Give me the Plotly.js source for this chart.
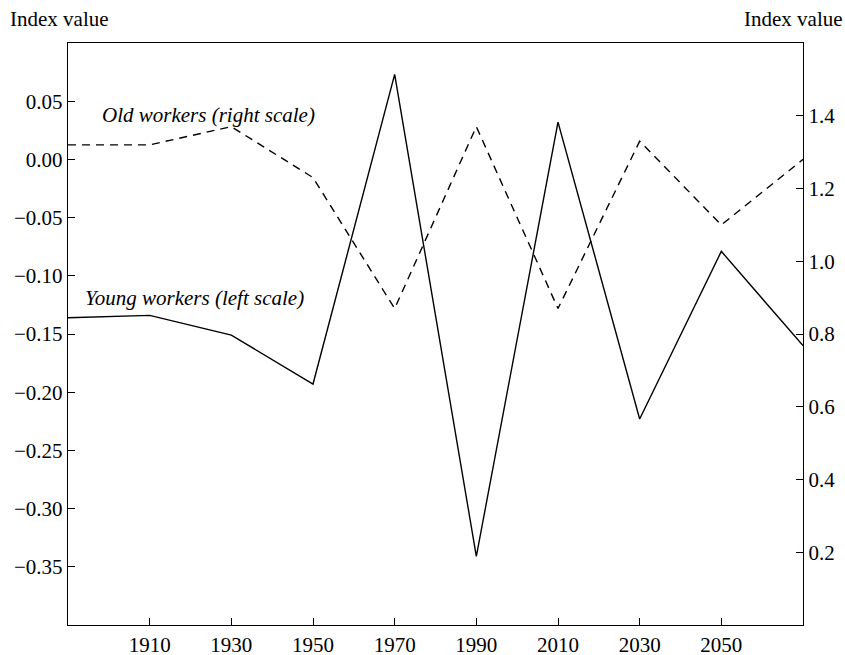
<!DOCTYPE html>
<html>
<head>
<meta charset="utf-8">
<script src="https://cdn.plot.ly/plotly-3.0.1.min.js"></script>
<style>html,body{margin:0;padding:0;background:#fff;}#chart{width:845px;height:655px;}</style>
</head>
<body>
<div id="chart"></div>
<script>
var years = [1890, 1910, 1930, 1950, 1970, 1990, 2010, 2030, 2050, 2070];
var youngWorkers = [-0.136, -0.134, -0.151, -0.193, 0.073, -0.341, 0.032, -0.223, -0.079, -0.160];
var oldWorkers = [1.32, 1.32, 1.37, 1.23, 0.87, 1.37, 0.87, 1.33, 1.10, 1.28];
var xTicks = [1910, 1930, 1950, 1970, 1990, 2010, 2030, 2050];
var leftTicks = [-0.35, -0.30, -0.25, -0.20, -0.15, -0.10, -0.05, 0.00, 0.05];
var rightTicks = [0.2, 0.4, 0.6, 0.8, 1.0, 1.2, 1.4];

var font = '"Liberation Serif", "Times New Roman", serif';
var traces = [
  {x: years, y: youngWorkers, type: 'scatter', mode: 'lines', name: 'Young workers (left scale)',
   line: {color: '#000', width: 1.4}, yaxis: 'y'},
  {x: years, y: oldWorkers, type: 'scatter', mode: 'lines', name: 'Old workers (right scale)',
   line: {color: '#000', width: 1.4, dash: '8px,6px'}, yaxis: 'y2'}
];
var layout = {
  width: 845, height: 655,
  margin: {l: 68, r: 42, t: 43, b: 30},
  paper_bgcolor: '#fff', plot_bgcolor: '#fff',
  showlegend: false,
  font: {family: font, size: 21, color: '#000'},
  xaxis: {range: [1890, 2070], tickvals: xTicks, ticks: 'inside', ticklen: 7, tickcolor: '#000',
    showline: true, linecolor: '#000', linewidth: 1.3, mirror: true, showgrid: false, zeroline: false,
    tickfont: {family: font, size: 21}},
  yaxis: {range: [-0.40, 0.10], tickvals: leftTicks, tickformat: '.2f', ticks: 'inside', ticklen: 7,
    tickcolor: '#000', showline: true, linecolor: '#000', linewidth: 1.3, showgrid: false, zeroline: false,
    tickfont: {family: font, size: 21}},
  yaxis2: {range: [0, 1.6], tickvals: rightTicks, tickformat: '.1f', overlaying: 'y', side: 'right',
    ticks: 'inside', ticklen: 7, tickcolor: '#000', showline: true, linecolor: '#000', linewidth: 1.3,
    showgrid: false, zeroline: false, tickfont: {family: font, size: 21}},
  annotations: [
    {text: 'Index value', xref: 'paper', yref: 'paper', x: -0.082, y: 1.0, yshift: 24, xanchor: 'left', yanchor: 'middle',
     showarrow: false, font: {family: font, size: 21}},
    {text: 'Index value', xref: 'paper', yref: 'paper', x: 1.057, y: 1.0, yshift: 24, xanchor: 'right', yanchor: 'middle',
     showarrow: false, font: {family: font, size: 21}},
    {text: '<i>Old workers (right scale)</i>', xref: 'paper', yref: 'paper', x: (100 - 68) / 735, y: (625 - 115) / 582,
     xanchor: 'left', yanchor: 'middle', showarrow: false, font: {family: font, size: 21}},
    {text: '<i>Young workers (left scale)</i>', xref: 'paper', yref: 'paper', x: (83 - 68) / 735, y: (625 - 298) / 582,
     xanchor: 'left', yanchor: 'middle', showarrow: false, font: {family: font, size: 21}}
  ]
};
Plotly.newPlot('chart', traces, layout, {displayModeBar: false, staticPlot: true});
</script>
</body>
</html>
